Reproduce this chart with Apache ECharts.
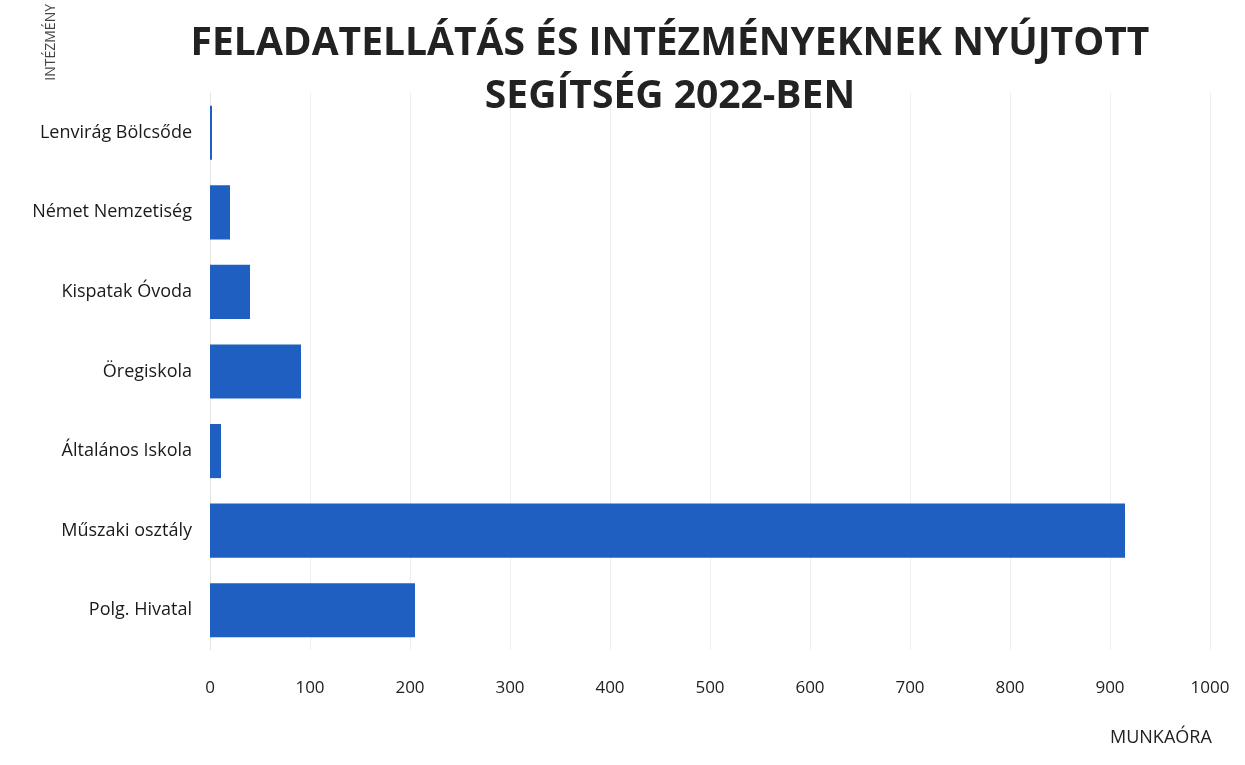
<!DOCTYPE html>
<html>
<head>
<meta charset="utf-8">
<script src="https://cdn.jsdelivr.net/npm/echarts@6/dist/echarts.min.js"></script>
<style>
  html, body { margin: 0; padding: 0; background: #fff; }
  #chart { width: 1245px; height: 765px; }
</style>
</head>
<body>
<div id="chart"></div>
<script>
// data
var categories = ['Lenvirág Bölcsőde', 'Német Nemzetiség', 'Kispatak Óvoda', 'Öregiskola', 'Általános Iskola', 'Műszaki osztály', 'Polg. Hivatal']
var hours = [2, 20, 40, 91, 11, 915, 205]
var xTicks = [0, 100, 200, 300, 400, 500, 600, 700, 800, 900, 1000]

var chart = echarts.init(document.getElementById('chart'))
var font = '"Open Sans", "Noto Sans", sans-serif'

chart.setOption({
  backgroundColor: '#fff',
  title: {
    text: 'FELADATELLÁTÁS ÉS INTÉZMÉNYEKNEK NYÚJTOTT\nSEGÍTSÉG 2022-BEN',
    left: 665,
    top: 12,
    textAlign: 'center',
    textStyle: { fontFamily: font, fontWeight: 'bold', fontSize: 39, lineHeight: 53, color: '#222' }
  },
  graphic: [
    {
      type: 'text', left: 44, top: 4, rotation: Math.PI / 2,
      style: { text: 'INTÉZMÉNY', font: '14px ' + font, fill: '#444' }
    },
    {
      type: 'text', left: 1110, top: 729,
      style: { text: 'MUNKAÓRA', font: '18px ' + font, fill: '#222' }
    }
  ],
  grid: { left: 210, right: 35, top: 93, bottom: 115, containLabel: false },
  xAxis: {
    type: 'value',
    min: xTicks[0],
    max: xTicks[xTicks.length - 1],
    interval: 100,
    axisLine: { show: false },
    axisTick: { show: false },
    splitLine: { lineStyle: { color: '#efefef', width: 1 } },
    axisLabel: { margin: 30, fontSize: 17, fontFamily: font, color: '#222', formatter: v => String(v) }
  },
  yAxis: {
    type: 'category',
    data: categories,
    inverse: true,
    axisLine: { show: true, lineStyle: { color: '#e4e4e4' } },
    axisTick: { show: false },
    axisLabel: { margin: 18, fontSize: 18, fontFamily: font, color: '#1a1a1a' }
  },
  series: [{
    type: 'bar',
    data: hours,
    barCategoryGap: '32%',
    itemStyle: { color: '#1f5fc2' }
  }]
})
</script>
</body>
</html>
